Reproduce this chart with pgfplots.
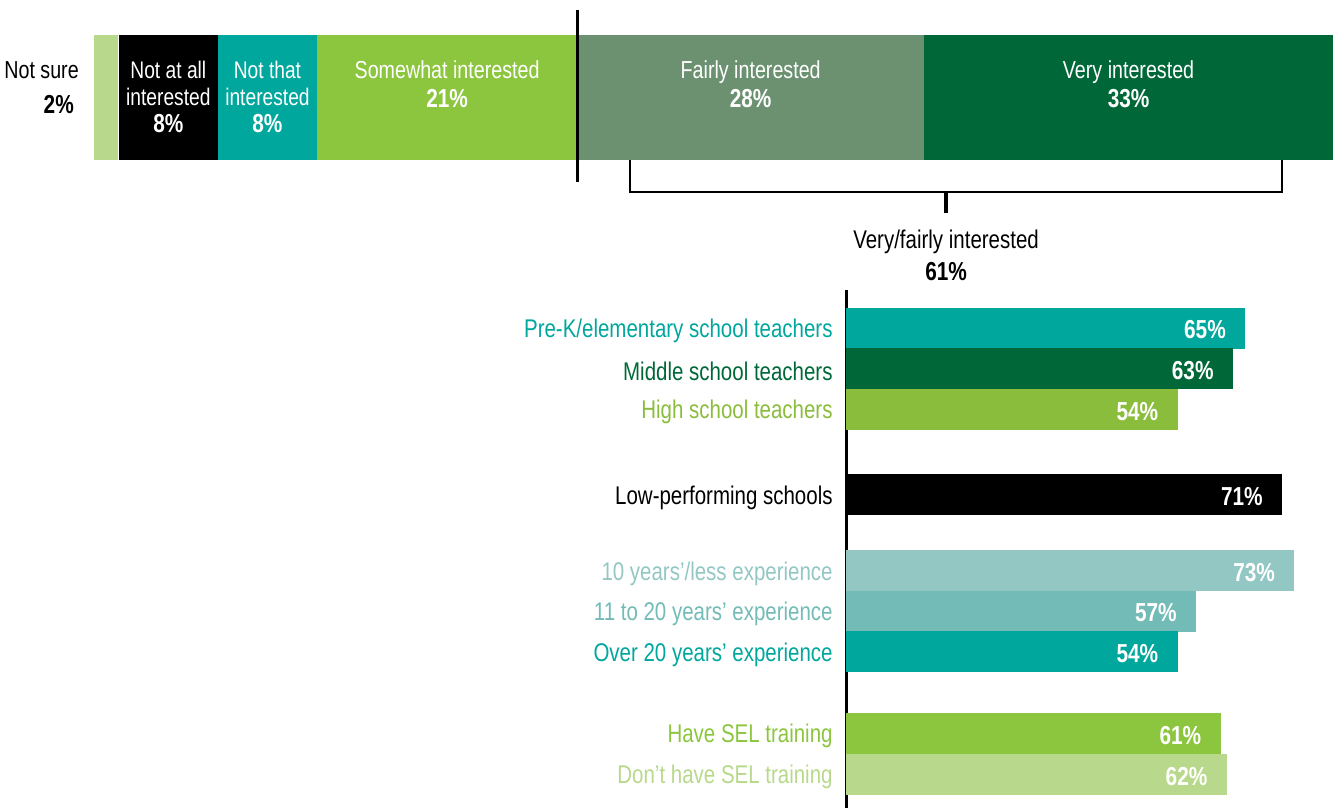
\documentclass[border=0pt]{standalone}
\usepackage{pgfplots}
\pgfplotsset{compat=1.18}
\usepackage{fontspec}
\setmainfont{Liberation Sans}[FakeStretch=0.8]
\definecolor{ltgreen}{HTML}{B8D98B}
\definecolor{teal}{HTML}{00A79D}
\definecolor{midgreen}{HTML}{8CC63F}
\definecolor{hsgreen}{HTML}{8ABD3C}
\definecolor{greygreen}{HTML}{6B9171}
\definecolor{dkgreen}{HTML}{006838}
\definecolor{ltteal}{HTML}{93C7C3}
\definecolor{mdteal}{HTML}{72BBB6}
\newcommand{\lbl}[4]{\node[anchor=base,inner sep=0pt,text=#4] at (axis cs:#1,#2) {#3};}
\newcommand{\pct}{\fontsize{13}{15}\selectfont\bfseries}
\pgfplotsset{topaxis/.style={
  at={(47pt,-80pt)}, anchor=south west,
  scale only axis, width=619.5pt, height=62.5pt,
  xmin=0, xmax=100, ymin=0, ymax=1,
  hide axis, clip=false}}

\begin{document}
\begin{tikzpicture}[font=\fontsize{12.3}{14}\selectfont]
\useasboundingbox (0,0) rectangle (666.5pt,-404pt);

% top stacked bar, 1 px = 0.5pt
\begin{axis}[topaxis, xbar stacked, bar width=62.5pt]
\addplot[fill=ltgreen,draw=none] coordinates {(2,0.5)};
\addplot[fill=black,draw=none] coordinates {(8,0.5)};
\addplot[fill=teal,draw=none] coordinates {(8,0.5)};
\addplot[fill=midgreen,draw=none] coordinates {(21,0.5)};
\addplot[fill=greygreen,draw=none] coordinates {(28,0.5)};
\addplot[fill=dkgreen,draw=none] coordinates {(33,0.5)};
\end{axis}

% labels, divider and bracket over the stacked bar
\begin{axis}[topaxis]
\draw[white,line width=0.6pt] (axis cs:2,0) -- (axis cs:2,1);
\node[anchor=base east,inner sep=0pt] at (axis cs:-1.2,0.656) {Not sure};
\node[anchor=base east,inner sep=0pt] at (axis cs:-1.6,0.376) {\pct 2\%};
\lbl{6}{0.656}{\fontsize{12}{14}\selectfont Not at all}{white}
\lbl{6}{0.44}{\fontsize{12}{14}\selectfont interested}{white}
\lbl{6}{0.224}{\pct 8\%}{white}
\lbl{14}{0.656}{\fontsize{12}{14}\selectfont Not that}{white}
\lbl{14}{0.44}{\fontsize{12}{14}\selectfont interested}{white}
\lbl{14}{0.224}{\pct 8\%}{white}
\lbl{28.5}{0.656}{Somewhat interested}{white}
\lbl{28.5}{0.424}{\pct 21\%}{white}
\lbl{53}{0.656}{Fairly interested}{white}
\lbl{53}{0.424}{\pct 28\%}{white}
\lbl{83.5}{0.656}{Very interested}{white}
\lbl{83.5}{0.424}{\pct 33\%}{white}
\draw[black,line width=1.5pt] (axis cs:39.06,1.2) -- (axis cs:39.06,-0.176);
\draw[black,line width=1pt] (axis cs:43.26,0) -- (axis cs:43.26,-0.256)
  -- (axis cs:95.9,-0.256) -- (axis cs:95.9,0);
\draw[black,line width=1.6pt] (axis cs:68.77,-0.256) -- (axis cs:68.77,-0.424);
\lbl{68.77}{-0.704}{\fontsize{12.8}{14}\selectfont Very/fairly interested}{black}
\lbl{68.77}{-0.96}{\pct 61\%}{black}
\end{axis}

% subgroup bars
\begin{axis}[
  at={(423pt,-145pt)}, anchor=north west,
  scale only axis, width=243.5pt, height=259pt,
  xmin=0, xmax=79.3, ymin=-0.936, ymax=11.82,
  y dir=reverse,
  axis x line=none, axis y line=left,
  axis line style={-,line width=1.5pt},
  xbar, bar width=20.5pt, bar shift=0pt,
  major tick length=0pt,
  ytick={0,1,2,4.1,5.97,6.97,7.97,9.98,10.99},
  yticklabels={
    \textcolor{teal}{Pre-K/elementary school teachers},
    \textcolor{dkgreen}{Middle school teachers},
    \textcolor{hsgreen}{High school teachers},
    \textcolor{black}{Low-performing schools},
    \textcolor{ltteal}{10 years’/less experience},
    \textcolor{mdteal}{11 to 20 years’ experience},
    \textcolor{teal}{Over 20 years’ experience},
    \textcolor{midgreen}{Have SEL training},
    \textcolor{ltgreen}{Don’t have SEL training}},
  yticklabel style={anchor=east,inner sep=0pt,xshift=-6.5pt,yshift=-1.5pt,
    font=\fontsize{12.8}{14}\selectfont},
  /pgf/number format/assume math mode=true,
  nodes near coords={\pgfmathprintnumber{\pgfplotspointmeta}\%},
  every node near coord/.append style={anchor=east,inner sep=0pt,xshift=-9.5pt,
    yshift=-1pt,text=white,font=\pct},
]
\addplot[fill=teal,draw=none] coordinates {(65,0)};
\addplot[fill=dkgreen,draw=none] coordinates {(63,1)};
\addplot[fill=hsgreen,draw=none] coordinates {(54,2)};
\addplot[fill=black,draw=none] coordinates {(71,4.1)};
\addplot[fill=ltteal,draw=none] coordinates {(73,5.97)};
\addplot[fill=mdteal,draw=none] coordinates {(57,6.97)};
\addplot[fill=teal,draw=none] coordinates {(54,7.97)};
\addplot[fill=midgreen,draw=none] coordinates {(61,9.98)};
\addplot[fill=ltgreen,draw=none] coordinates {(62,10.99)};
\end{axis}
\end{tikzpicture}
\end{document}
